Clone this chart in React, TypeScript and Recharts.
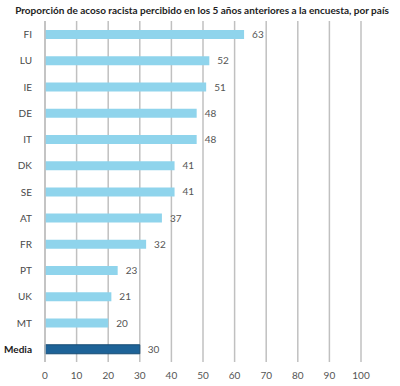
import { BarChart, Bar, XAxis, YAxis, CartesianGrid, Cell, LabelList } from 'recharts';

const countries = ['FI', 'LU', 'IE', 'DE', 'IT', 'DK', 'SE', 'AT', 'FR', 'PT', 'UK', 'MT', 'Media'];
const values = [63, 52, 51, 48, 48, 41, 41, 37, 32, 23, 21, 20, 30];
const xTicks = [0, 10, 20, 30, 40, 50, 60, 70, 80, 90, 100];

const TITLE = 'Proporción de acoso racista percibido en los 5 años anteriores a la encuesta, por país';

const LIGHT = '#8fd4ec';
const DARK = '#1e6398';
const GRID = '#c0c0c0';
const FONT = 'Lato, "Open Sans", sans-serif';

const data = countries.map((name, i) => ({ name, value: values[i] }));

const CountryTick = (props: any) => {
    const { x, y, payload } = props;
    const isAvg = payload.value === 'Media';
    return (
        <text
            x={x - 5}
            y={y}
            dy={4}
            textAnchor="end"
            fontSize={10}
            fontFamily={FONT}
            fontWeight={isAvg ? 700 : 400}
            fill={isAvg ? '#1a1a1a' : '#4a4a4a'}
        >
            {payload.value}
        </text>
    );
};

const App = () => {
    return (
        <div style={{ position: 'absolute', left: 0, top: 0, width: 400, height: 386, background: '#fff' }}>
            <div style={{
                position: 'absolute',
                top: 4,
                left: 0,
                width: 404,
                textAlign: 'center',
                fontFamily: FONT,
                fontWeight: 700,
                fontSize: 10,
                color: '#222',
                whiteSpace: 'nowrap'
            }}>
                {TITLE}
            </div>
            <BarChart
                width={400}
                height={386}
                data={data}
                layout="vertical"
                margin={{ top: 21, right: 39, bottom: 0, left: 0 }}
                barCategoryGap={0}
            >
                <CartesianGrid horizontal={false} stroke={GRID} strokeWidth={1.5} />
                <XAxis
                    type="number"
                    domain={[0, 100]}
                    ticks={xTicks}
                    axisLine={false}
                    tickLine={false}
                    height={24}
                    interval={0}
                    tick={{ fontSize: 10, fill: '#555', fontFamily: FONT }}
                    tickMargin={4}
                />
                <YAxis
                    type="category"
                    dataKey="name"
                    width={45}
                    axisLine={{ stroke: GRID, strokeWidth: 1.5 }}
                    tickLine={false}
                    tick={<CountryTick />}
                    interval={0}
                />
                <Bar dataKey="value" barSize={9} isAnimationActive={false}>
                    {data.map((d, i) => (
                        <Cell
                            key={`cell-${i}`}
                            fill={d.name === 'Media' ? DARK : LIGHT}
                            stroke={d.name === 'Media' ? '#174c75' : 'none'}
                        />
                    ))}
                    <LabelList
                        dataKey="value"
                        position="right"
                        offset={8}
                        fontSize={10}
                        fontFamily={FONT}
                        fill="#555"
                    />
                </Bar>
            </BarChart>
        </div>
    );
};

export default App;
